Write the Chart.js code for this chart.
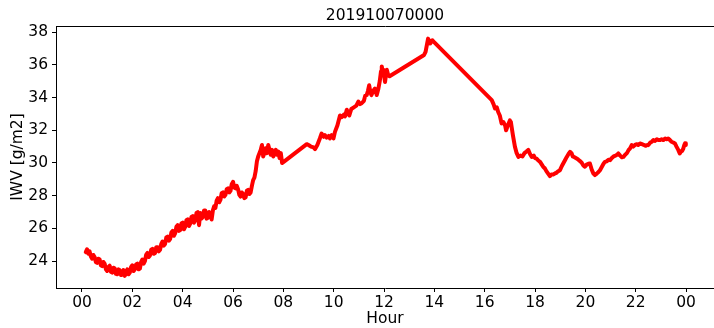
<!DOCTYPE html>
<html>
<head>
<meta charset="utf-8">
<script src="https://cdn.jsdelivr.net/npm/chart.js@4/dist/chart.umd.min.js"></script>
<style>
  html, body { margin: 0; padding: 0; background: #fff; overflow: hidden; }
  canvas { display: block; }
</style>
</head>
<body>
<canvas id="iwv" width="714" height="328"></canvas>
<script>
// Integrated water vapour over the day, hour of day vs IWV in g/m2
const hours = [
  0.15, 0.2, 0.25, 0.3, 0.35, 0.4, 0.45, 0.5, 0.55, 0.6,
  0.65, 0.7, 0.75, 0.8, 0.85, 0.9, 0.95, 1.0, 1.05, 1.1,
  1.15, 1.2, 1.25, 1.3, 1.35, 1.4, 1.45, 1.5, 1.55, 1.6,
  1.65, 1.7, 1.75, 1.8, 1.85, 1.9, 1.95, 2.0, 2.05, 2.1,
  2.15, 2.2, 2.25, 2.3, 2.35, 2.4, 2.45, 2.5, 2.55, 2.6,
  2.65, 2.7, 2.75, 2.8, 2.85, 2.9, 2.95, 3.0, 3.05, 3.1,
  3.15, 3.2, 3.25, 3.3, 3.35, 3.4, 3.45, 3.5, 3.55, 3.6,
  3.65, 3.7, 3.75, 3.8, 3.85, 3.9, 3.95, 4.0, 4.05, 4.1,
  4.15, 4.2, 4.25, 4.3, 4.35, 4.4, 4.45, 4.5, 4.55, 4.6,
  4.65, 4.7, 4.75, 4.8, 4.85, 4.9, 4.95, 5.0, 5.05, 5.1,
  5.15, 5.2, 5.25, 5.3, 5.35, 5.4, 5.45, 5.5, 5.55, 5.6,
  5.65, 5.7, 5.75, 5.8, 5.85, 5.9, 5.95, 6.0, 6.05, 6.1,
  6.15, 6.2, 6.25, 6.3, 6.35, 6.4, 6.45, 6.5, 6.55, 6.6,
  6.65, 6.7, 6.75, 6.8, 6.85, 6.9, 6.95, 7.0,
  7.1, 7.15, 7.2, 7.3, 7.35, 7.4, 7.5, 7.55,
  7.6, 7.7, 7.75, 7.8, 7.85, 7.9, 7.95, 8.0,
  8.93, 9.0, 9.1, 9.2, 9.26, 9.35, 9.45, 9.52, 9.6, 9.65,
  9.72, 9.8, 9.85, 9.92, 9.99, 10.05, 10.15, 10.25, 10.32, 10.4,
  10.45, 10.52, 10.58, 10.62, 10.7, 10.8, 10.9, 10.98, 11.05, 11.11,
  11.2, 11.25, 11.31, 11.36, 11.41, 11.46, 11.5, 11.57, 11.64, 11.71,
  11.77, 11.83, 11.88, 11.91, 11.95, 11.97, 12.04, 12.08, 12.11, 12.17,
  12.22,
  13.59, 13.65, 13.75, 13.83, 13.92, 13.98,
  16.28, 16.35, 16.41, 16.48, 16.54, 16.6, 16.67, 16.74, 16.81, 16.85,
  16.92, 17.0, 17.04, 17.07, 17.12, 17.2, 17.27, 17.34, 17.42, 17.5,
  17.58, 17.66, 17.73, 17.8, 17.87, 17.95, 18.0, 18.06, 18.13, 18.2,
  18.27, 18.33, 18.39, 18.45, 18.52, 18.59, 18.65, 18.72, 18.79, 18.85,
  18.92, 18.99, 19.06, 19.13, 19.2, 19.26, 19.33, 19.39, 19.45, 19.5,
  19.57, 19.65, 19.72, 19.8, 19.86, 19.92, 19.98, 20.05, 20.12, 20.18,
  20.25, 20.32, 20.38, 20.45, 20.52, 20.58, 20.65, 20.72, 20.78, 20.85,
  20.92, 20.98, 21.05, 21.12, 21.2, 21.26, 21.31, 21.38, 21.45, 21.51,
  21.58, 21.65, 21.72, 21.77, 21.84, 21.9, 21.97, 22.05, 22.1, 22.17,
  22.25, 22.32, 22.4, 22.46, 22.5, 22.58, 22.64, 22.7, 22.77, 22.84,
  22.9, 22.96, 23.03, 23.1, 23.17, 23.23, 23.29, 23.36, 23.42, 23.49,
  23.56, 23.62, 23.69, 23.75, 23.8, 23.85, 23.89, 23.93, 23.96, 23.99
];

const iwv = [
  24.55, 24.72, 24.45, 24.6, 24.3, 24.15, 24.38, 24.25, 23.95, 23.9,
  24.15, 24.1, 23.75, 23.7, 23.95, 23.85, 23.5, 23.4, 23.65, 23.72,
  23.35, 23.3, 23.6, 23.55, 23.22, 23.2, 23.5, 23.45, 23.15, 23.18,
  23.45, 23.1, 23.3, 23.5, 23.2, 23.3, 23.65, 23.75, 23.4, 23.5,
  23.8, 23.85, 23.5, 23.55, 23.95, 24.1, 23.85, 24.0, 24.4, 24.5,
  24.25, 24.35, 24.7, 24.75, 24.45, 24.5, 24.85, 24.85, 24.6, 24.7,
  25.05, 25.2, 24.95, 25.05, 25.45, 25.5, 25.25, 25.35, 25.75, 25.85,
  25.55, 25.7, 26.1, 26.2, 25.85, 25.9, 26.3, 26.35, 25.95, 26.1,
  26.5, 26.55, 26.15, 26.3, 26.7, 26.75, 26.35, 26.5, 26.95, 27.0,
  26.2, 26.95, 26.6, 26.7, 27.1, 27.1, 26.6, 26.65, 27.0, 26.95,
  26.55, 27.1, 27.35, 27.25, 27.7, 27.85, 27.6, 27.75, 28.15, 28.2,
  27.95, 28.05, 28.4, 28.45, 28.2, 28.3, 28.7, 28.85, 28.5, 28.45,
  28.6, 28.4, 28.05, 27.95, 28.2, 28.1, 27.85, 27.9, 28.3, 28.35,
  28.1, 28.2, 28.6, 28.95, 29.1, 29.5, 30.1, 30.4,
  30.8, 31.1, 30.4, 30.9, 30.6, 31.1, 30.5, 30.8,
  30.4, 30.8, 30.5, 30.7, 30.3, 30.6, 30.0, 30.05,
  31.15, 31.1, 31.0, 30.95, 30.85, 31.1, 31.5, 31.8, 31.6, 31.7,
  31.55, 31.65, 31.5, 31.7, 31.5, 31.9, 32.3, 32.9, 32.8, 32.95,
  32.85, 33.25, 33.0, 32.9, 33.3, 33.4, 33.5, 33.75, 33.6, 33.65,
  33.8, 34.1, 34.15, 34.4, 34.75, 34.3, 34.15, 34.4, 34.55, 34.15,
  34.5, 35.0, 35.6, 35.9, 35.5, 35.7, 34.95, 35.4, 35.7, 35.35,
  35.3,
  36.6, 36.79, 37.6, 37.3, 37.5, 37.4,
  33.84, 33.6, 33.33, 33.4, 33.1, 32.9, 32.42, 32.5, 32.3, 32.0,
  32.3, 32.6, 32.5, 32.2, 31.7, 31.0, 30.6, 30.37, 30.45, 30.4,
  30.6, 30.7, 30.8, 30.55, 30.37, 30.45, 30.3, 30.27, 30.15, 30.07,
  29.9, 29.75, 29.67, 29.5, 29.35, 29.2, 29.3, 29.3, 29.36, 29.4,
  29.5, 29.56, 29.8, 30.0, 30.2, 30.37, 30.55, 30.68, 30.6, 30.4,
  30.35, 30.28, 30.2, 30.1, 30.0, 29.85, 29.77, 29.9, 29.95, 29.97,
  29.6, 29.35, 29.26, 29.35, 29.45, 29.56, 29.75, 29.95, 30.07, 30.1,
  30.2, 30.17, 30.3, 30.4, 30.45, 30.5, 30.58, 30.45, 30.35, 30.37,
  30.5, 30.6, 30.8, 30.88, 31.09, 31.0, 31.1, 31.15, 31.1, 31.19,
  31.15, 31.1, 31.05, 31.1, 31.09, 31.25, 31.3, 31.4, 31.35, 31.45,
  31.4, 31.4, 31.45, 31.4, 31.5, 31.45, 31.5, 31.4, 31.3, 31.25,
  31.19, 31.0, 30.8, 30.58, 30.7, 30.75, 30.88, 31.1, 31.2, 31.1
];

const xTickHours = [0, 2, 4, 6, 8, 10, 12, 14, 16, 18, 20, 22, 24];
const xTickLabels = ['00', '02', '04', '06', '08', '10', '12', '14', '16', '18', '20', '22', '00'];
const yTickValues = [24, 26, 28, 30, 32, 34, 36, 38];

const FONT = { family: 'DejaVu Sans', size: 15.5 };
const INK = '#000000';

const points = hours.map((h, i) => ({ x: h, y: iwv[i] }));

new Chart(document.getElementById('iwv'), {
  type: 'line',
  data: {
    datasets: [{
      data: points,
      borderColor: '#ff0000',
      borderWidth: 4,
      pointRadius: 0,
      tension: 0,
      fill: false,
      borderJoinStyle: 'round',
      borderCapStyle: 'round'
    }]
  },
  options: {
    responsive: false,
    animation: false,
    devicePixelRatio: 1,
    layout: { padding: 0 },
    plugins: {
      legend: { display: false },
      tooltip: { enabled: false },
      title: { display: false }
    },
    scales: {
      x: {
        type: 'linear',
        position: 'bottom',
        min: -1.033,
        max: 25.11,
        afterBuildTicks: s => { s.ticks = xTickHours.map(v => ({ value: v })); },
        afterFit: s => { s.height = 40; },
        ticks: {
          autoSkip: false,
          maxRotation: 0,
          padding: 2,
          color: INK,
          font: FONT,
          callback: (v) => xTickLabels[xTickHours.indexOf(v)]
        },
        grid: { drawOnChartArea: false, drawTicks: true, tickLength: 4, tickColor: INK, tickWidth: 1 },
        border: { display: true, color: INK, width: 1 },
        title: { display: true, text: 'Hour', color: INK, font: FONT, padding: { top: 0, bottom: 0 } }
      },
      top: {
        type: 'linear',
        position: 'top',
        min: -1.033,
        max: 25.11,
        afterFit: s => { s.height = 26; },
        ticks: { display: false },
        grid: { display: true, drawOnChartArea: false, drawTicks: false },
        border: { display: true, color: INK, width: 1 },
        title: { display: true, text: '201910070000', color: INK, font: FONT, padding: { top: 6.7, bottom: 0 } }
      },
      y: {
        type: 'linear',
        position: 'left',
        min: 22.36,
        max: 38.37,
        afterBuildTicks: s => { s.ticks = yTickValues.map(v => ({ value: v })); },
        afterFit: s => { s.width = 56; },
        ticks: {
          autoSkip: false,
          padding: 4,
          color: INK,
          font: FONT,
          callback: (v) => String(v)
        },
        grid: { drawOnChartArea: false, drawTicks: true, tickLength: 4, tickColor: INK, tickWidth: 1 },
        border: { display: true, color: INK, width: 1 },
        title: { display: true, text: 'IWV [g/m2]', color: INK, font: FONT, padding: { top: 9, bottom: 0 } }
      }
    }
  }
});
</script>
</body>
</html>
